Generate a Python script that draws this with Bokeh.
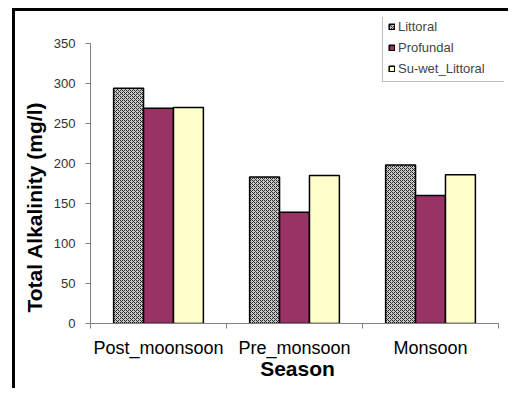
from bokeh.plotting import figure
from bokeh.models import FixedTicker, Legend, LegendItem, Range1d, Title
from bokeh.embed import file_html
from bokeh.resources import INLINE

seasons = ["Post_moonsoon", "Pre_monsoon", "Monsoon"]
series_names = ["Littoral", "Profundal", "Su-wet_Littoral"]
littoral = [294, 183, 198]
profundal = [269, 139, 160]
su_wet_littoral = [270, 185, 186]
y_ticks = [0, 50, 100, 150, 200, 250, 300, 350]

p = figure(width=493, height=377, output_backend="svg", toolbar_location=None,
           x_range=Range1d(0, 3.044), y_range=Range1d(0, 382.5),
           min_border_left=75, min_border_right=4, min_border_top=6, min_border_bottom=65)
p.margin = (11, 0, 0, 15)
p.styles = {"box-shadow": "-3px -3px 0 0 black, -3px 0 0 0 black, 0 -3px 0 0 black"}
p.outline_line_color = None
p.grid.visible = False
p.background_fill_color = "white"
p.border_fill_color = "white"

bw = 0.22
centers = [i + 0.5 for i in range(len(seasons))]
styles = [
    dict(fill_color="#c8c8c8", hatch_pattern="diagonal_cross", hatch_color="#2a2a2a",
         hatch_scale=4, hatch_weight=1),
    dict(fill_color="#993366"),
    dict(fill_color="#ffffcc"),
]
renderers = []
for k, vals in enumerate([littoral, profundal, su_wet_littoral]):
    xs = [c + (k - 1) * bw for c in centers]
    r = p.vbar(x=xs, top=vals, bottom=0, width=bw, line_color="black", line_width=1.5,
               **styles[k])
    renderers.append(r)

# axes
xa = p.xaxis[0]
xa.bounds = (0, 3)
xa.ticker = FixedTicker(ticks=centers, minor_ticks=[0, 1, 2, 3])
xa.major_label_overrides = {c: s for c, s in zip(centers, seasons)}
xa.major_tick_out = 0
xa.major_tick_in = 0
xa.minor_tick_out = 5
xa.minor_tick_in = 0
xa.minor_tick_line_color = "#808080"
xa.axis_line_color = "#808080"
xa.major_label_text_font = "Liberation Sans"
xa.major_label_text_font_size = "18px"
xa.major_label_text_color = "black"
xa.major_label_standoff = 9
xa.axis_label = "Season"
xa.axis_label_text_font = "Liberation Sans"
xa.axis_label_text_font_style = "bold"
xa.axis_label_text_font_size = "21px"
xa.axis_label_text_color = "black"
xa.axis_label_standoff = -4

ya = p.yaxis[0]
ya.bounds = (0, 350)
ya.ticker = FixedTicker(ticks=y_ticks, minor_ticks=[])
ya.major_tick_out = 5
ya.major_tick_in = 0
ya.major_tick_line_color = "#808080"
ya.axis_line_color = "#808080"
ya.major_label_text_font = "Liberation Sans"
ya.major_label_text_font_size = "13px"
ya.major_label_text_color = "#333333"
ya.major_label_standoff = 10

ytitle = Title(text="Total Alkalinity (mg/l)", align="left", offset=11,
               text_font="Liberation Sans", text_font_style="bold",
               text_font_size="21px", text_color="black", standoff=10)
p.add_layout(ytitle, "left")

legend = Legend(items=[LegendItem(label=n, renderers=[r]) for n, r in zip(series_names, renderers)],
                location=(292, 241), orientation="vertical")
legend.label_text_font = "Liberation Sans"
legend.label_text_font_size = "13px"
legend.glyph_width = 7
legend.glyph_height = 7
legend.label_standoff = 3
legend.label_height = 14
legend.label_width = 102
legend.spacing = 6
legend.padding = 5
legend.margin = 0
legend.border_line_color = "#808080"
legend.border_line_width = 1
legend.background_fill_alpha = 1
p.add_layout(legend, "center")

open("out.html", "w").write(file_html(p, INLINE))
